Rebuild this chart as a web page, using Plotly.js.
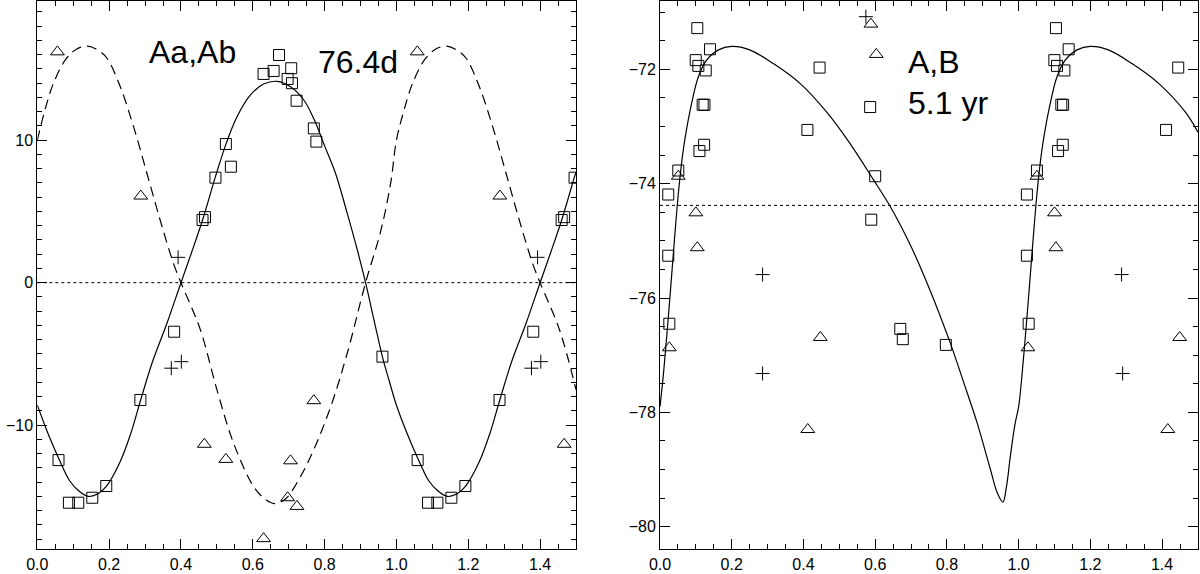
<!DOCTYPE html>
<html><head><meta charset="utf-8">
<script src="https://cdn.plot.ly/plotly-3.0.1.min.js"></script>
<style>html,body{margin:0;padding:0;background:#fff}#chart{width:1200px;height:574px}</style>
</head><body><div id="chart"></div>
<script>
// ---------- Left panel: Aa,Ab (76.4 d) ----------
const aaSqX = [0.059,0.088,0.114,0.153,0.192,0.287,0.381,0.460,0.467,0.496,0.525,0.539,0.630,0.658,0.673,0.697,0.707,0.709,0.722,0.770,0.777,0.961,1.059,1.088,1.114,1.153,1.192,1.287,1.381,1.460,1.467,1.496];
const aaSqY = [-12.45,-15.44,-15.44,-15.09,-14.27,-8.23,-3.44,4.40,4.60,7.37,9.73,8.14,14.65,14.86,15.98,14.30,15.05,14.00,12.77,10.83,9.90,-5.19,-12.45,-15.44,-15.44,-15.09,-14.27,-8.23,-3.44,4.40,4.60,7.37];
const aaTriX = [0.056,0.288,0.465,0.525,0.630,0.697,0.705,0.723,0.770,1.058,1.288,1.467];
const aaTriY = [16.2,6.08,-11.34,-12.4,-17.96,-15.09,-12.5,-15.7,-8.28,16.2,6.08,-11.34];
const aaPlusX = [0.373,0.392,0.401,1.376,1.393,1.402];
const aaPlusY = [-6.0,1.78,-5.54,-6.0,1.78,-5.54];
const aaCurveX = [0,0.03,0.059,0.09,0.115,0.142,0.17,0.192,0.23,0.26,0.287,0.32,0.361,0.40,0.43,0.463,0.496,0.526,0.556,0.593,0.63,0.668,0.705,0.742,0.77,0.80,0.83,0.863,0.89,0.914,0.94,0.961,0.98,1.0,1.03,1.059,1.09,1.115,1.142,1.17,1.192,1.23,1.26,1.287,1.32,1.361,1.40,1.43,1.463,1.496,1.5];
const aaCurveY = [-8.6,-10.6,-12.3,-13.9,-14.6,-15.0,-14.8,-14.3,-12.6,-10.6,-8.3,-5.6,-2.85,0,2.15,4.63,7.44,9.78,11.65,13.17,13.94,14.13,13.75,12.82,11.5,9.6,7.7,4.87,2.4,0,-2.9,-5.2,-6.9,-8.6,-10.6,-12.3,-13.9,-14.6,-15.0,-14.8,-14.3,-12.6,-10.6,-8.3,-5.6,-2.85,0,2.15,4.63,7.44,7.75];
const abCurveX = [0,0.02,0.045,0.08,0.11,0.14,0.17,0.194,0.231,0.268,0.305,0.342,0.379,0.40,0.454,0.50,0.547,0.602,0.63,0.66,0.69,0.733,0.77,0.817,0.863,0.914,0.956,0.984,1.0,1.02,1.045,1.08,1.11,1.14,1.17,1.194,1.231,1.268,1.305,1.342,1.379,1.40,1.454,1.5];
const abCurveY = [10.0,12.0,14.0,15.7,16.4,16.6,16.3,15.75,13.75,10.95,7.7,4.4,1.36,0,-3.3,-7.5,-11.3,-14.3,-15.1,-15.5,-15.2,-13.6,-11.7,-8.7,-4.95,0,3.6,7.0,10.0,12.0,14.0,15.7,16.4,16.6,16.3,15.75,13.75,10.95,7.7,4.4,1.36,0,-3.3,-7.5];
const gammaAa = 0;
const labelAa = ["Aa,Ab", "76.4d"];

// ---------- Right panel: A,B (5.1 yr) ----------
const abSqX = [0.023,0.023,0.026,0.051,0.0996,0.104,0.107,0.110,0.119,0.123,0.124,0.1275,0.1395,0.411,0.445,0.586,0.589,0.600,0.670,0.677,0.797,1.023,1.023,1.028,1.051,1.0996,1.104,1.107,1.110,1.119,1.123,1.124,1.1275,1.1395,1.411,1.445];
const abSqY = [-74.19,-75.26,-76.45,-73.77,-71.84,-71.28,-71.94,-73.43,-72.62,-73.32,-72.62,-72.02,-71.65,-73.06,-71.97,-72.66,-74.63,-73.87,-76.54,-76.72,-76.82,-74.19,-75.26,-76.45,-73.77,-71.84,-71.28,-71.94,-73.43,-72.62,-73.32,-72.62,-72.02,-71.65,-73.06,-71.97];
const abTriX = [0.026,0.051,0.100,0.104,0.412,0.447,0.588,0.603,1.026,1.051,1.100,1.104,1.416,1.449];
const abTriY = [-76.87,-73.87,-74.51,-75.12,-78.30,-76.69,-71.21,-71.74,-76.87,-73.87,-74.51,-75.12,-78.30,-76.69];
const abPlusX = [0.286,0.286,0.574,1.287,1.290];
const abPlusY = [-75.59,-77.32,-71.08,-75.59,-77.32];
const orbCurveX = [0,0.01,0.023,0.03,0.04,0.05,0.06,0.07,0.088,0.107,0.13,0.163,0.2,0.25,0.316,0.391,0.465,0.53,0.595,0.642,0.7,0.754,0.809,0.847,0.884,0.921,0.94,0.956,0.966,0.977,0.99,1.0,1.01,1.023,1.03,1.04,1.05,1.06,1.07,1.088,1.107,1.13,1.163,1.2,1.25,1.316,1.391,1.465,1.5];
const orbCurveY = [-77.9,-77.3,-76.35,-75.8,-75.0,-74.25,-73.65,-73.2,-72.6,-72.13,-71.84,-71.66,-71.6,-71.66,-71.9,-72.25,-72.75,-73.3,-73.93,-74.4,-75.1,-75.88,-76.78,-77.48,-78.18,-78.99,-79.4,-79.57,-79.3,-78.76,-78.2,-77.9,-77.3,-76.35,-75.8,-75.0,-74.25,-73.65,-73.2,-72.6,-72.13,-71.84,-71.66,-71.6,-71.66,-71.9,-72.25,-72.75,-73.1];
const gammaAB = -74.38;
const labelAB = ["A,B", "5.1 yr"];

const blk = '#000';
const sq = {symbol:'square-open', size:11, color:blk, line:{width:1, color:blk}};
const tri = {symbol:'triangle-up-open', size:12, color:blk, line:{width:1, color:blk}};
const pl = {symbol:'cross-thin-open', size:10, color:blk, line:{width:1, color:blk}};

const traces = [
  {x:aaCurveX, y:aaCurveY, mode:'lines', line:{color:blk, width:1.2, shape:'spline'}, xaxis:'x', yaxis:'y'},
  {x:abCurveX, y:abCurveY, mode:'lines', line:{color:blk, width:1.2, shape:'spline', dash:'10px,6px'}, xaxis:'x', yaxis:'y'},
  {x:aaSqX, y:aaSqY, mode:'markers', marker:sq, xaxis:'x', yaxis:'y'},
  {x:aaTriX, y:aaTriY, mode:'markers', marker:tri, xaxis:'x', yaxis:'y'},
  {x:aaPlusX, y:aaPlusY, mode:'markers', marker:pl, xaxis:'x', yaxis:'y'},
  {x:orbCurveX, y:orbCurveY, mode:'lines', line:{color:blk, width:1.2, shape:'spline'}, xaxis:'x2', yaxis:'y2'},
  {x:abSqX, y:abSqY, mode:'markers', marker:sq, xaxis:'x2', yaxis:'y2'},
  {x:abTriX, y:abTriY, mode:'markers', marker:tri, xaxis:'x2', yaxis:'y2'},
  {x:abPlusX, y:abPlusY, mode:'markers', marker:pl, xaxis:'x2', yaxis:'y2'}
];

const tfont = {family:'"Liberation Sans", Arial, sans-serif', size:16, color:blk};
function xax(domain, anchor){
  return {domain:domain, anchor:anchor, range:[0,1.5], tick0:0, dtick:0.2, tickformat:'.1f',
    ticks:'inside', ticklen:10, tickwidth:1, tickcolor:blk,
    minor:{dtick:0.05, ticks:'inside', ticklen:5, tickwidth:1, tickcolor:blk},
    showline:true, linecolor:blk, linewidth:1, mirror:'ticks', showgrid:false, zeroline:false, tickfont:tfont};
}
function yax(range, dtick, mdtick, anchor){
  return {domain:[0.043,0.9983], anchor:anchor, range:range, dtick:dtick,
    ticks:'inside', ticklen:10, tickwidth:1, tickcolor:blk,
    minor:{dtick:mdtick, ticks:'inside', ticklen:5, tickwidth:1, tickcolor:blk},
    showline:true, linecolor:blk, linewidth:1, mirror:'ticks', showgrid:false, zeroline:false, tickfont:tfont};
}
const afont = {family:'"Liberation Sans", Arial, sans-serif', size:32, color:blk};
const layout = {
  width:1200, height:574, margin:{l:0,r:0,t:0,b:0}, showlegend:false, hovermode:false,
  paper_bgcolor:'#fff', plot_bgcolor:'#fff',
  xaxis: xax([0.0311,0.48],'y'),
  yaxis: yax([-18.71,19.77],10,1,'x'),
  xaxis2: xax([0.55,0.9983],'y2'),
  yaxis2: yax([-80.395,-70.805],2,0.5,'x2'),
  shapes:[
    {type:'line', xref:'x domain', yref:'y', x0:0, x1:1, y0:gammaAa, y1:gammaAa, line:{color:blk, width:1, dash:'dot'}},
    {type:'line', xref:'x2 domain', yref:'y2', x0:0, x1:1, y0:gammaAB, y1:gammaAB, line:{color:blk, width:1, dash:'dot'}}
  ],
  annotations:[
    {text:labelAa[0], xref:'x', yref:'y', x:0.306, y:16.2, xanchor:'left', yanchor:'middle', showarrow:false, font:afont},
    {text:labelAa[1], xref:'x', yref:'y', x:0.775, y:15.5, xanchor:'left', yanchor:'middle', showarrow:false, font:afont},
    {text:labelAB[0], xref:'x2', yref:'y2', x:0.687, y:-71.87, xanchor:'left', yanchor:'middle', showarrow:false, font:afont},
    {text:labelAB[1], xref:'x2', yref:'y2', x:0.687, y:-72.59, xanchor:'left', yanchor:'middle', showarrow:false, font:afont}
  ]
};
Plotly.newPlot('chart', traces, layout, {staticPlot:true, displayModeBar:false});
</script></body></html>
